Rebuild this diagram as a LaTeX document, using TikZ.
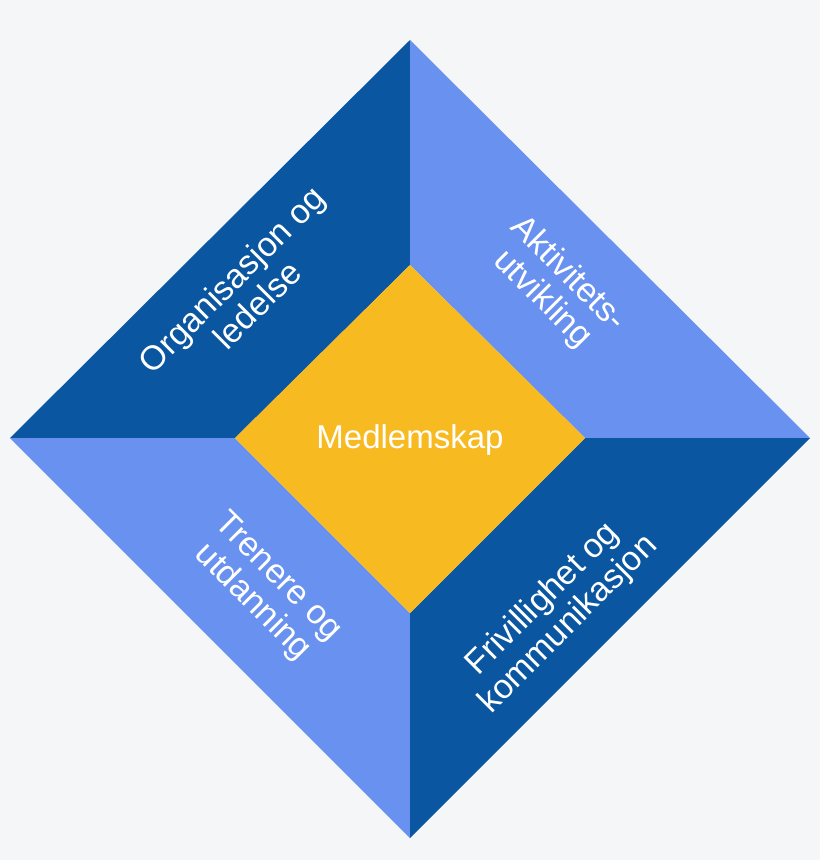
\documentclass[tikz,border=0pt]{standalone}
\usepackage{fontspec}
\setmainfont{Liberation Sans}
\definecolor{bg}{HTML}{F5F6F8}
\definecolor{dk}{HTML}{0A56A0}
\definecolor{lt}{HTML}{6891F0}
\definecolor{yl}{HTML}{F7BA21}
\begin{document}
\begin{tikzpicture}[x=1pt,y=-1pt,
  lbl/.style={text=white,font=\fontsize{34}{36}\selectfont,align=center,inner sep=0pt}]
\fill[bg] (0,0) rectangle (820,860);
\useasboundingbox (0,0) rectangle (820,860);
\coordinate (T) at (410,40); \coordinate (R) at (810,438);
\coordinate (B) at (410,838); \coordinate (L) at (10,438);
\coordinate (t) at (410,265); \coordinate (r) at (585,438);
\coordinate (b) at (410,613); \coordinate (l) at (235,438);
\fill[dk] (T)--(L)--(l)--(t)--cycle;
\fill[lt] (T)--(R)--(r)--(t)--cycle;
\fill[lt] (L)--(B)--(b)--(l)--cycle;
\fill[dk] (R)--(B)--(b)--(r)--cycle;
\fill[yl] (t)--(r)--(b)--(l)--cycle;
\node[lbl,font=\fontsize{33}{36}\selectfont] (m) at (410,440) {Medlemskap};
\node[lbl,rotate=45] (o) at (244,292) {Organisasjon og\\ledelse};
\node[lbl,rotate=-45] (a) at (555,287) {Aktivitets-\\utvikling};
\node[lbl,rotate=-45] (tr) at (265,590) {Trenere og\\utdanning};
\node[lbl,rotate=45] (f) at (556,612) {Frivillighet og\\kommunikasjon};
\end{tikzpicture}
\end{document}
